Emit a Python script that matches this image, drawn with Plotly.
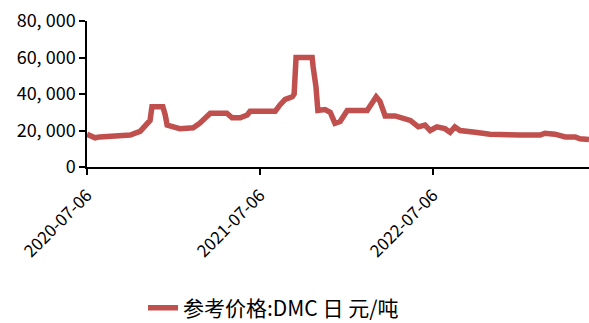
import plotly.graph_objects as go

dates = [
    "2020-07-06", "2020-07-23", "2020-08-02", "2020-10-05", "2020-10-26", "2020-11-05",
    "2020-11-16", "2020-11-20", "2020-12-13", "2020-12-18", "2020-12-22", "2021-01-18",
    "2021-02-15", "2021-03-01", "2021-03-16", "2021-03-23", "2021-04-27", "2021-05-08",
    "2021-05-25", "2021-06-09", "2021-06-15", "2021-08-07", "2021-08-17", "2021-08-28",
    "2021-09-12", "2021-09-16", "2021-09-20", "2021-10-24", "2021-10-26", "2021-11-01",
    "2021-11-05", "2021-11-20", "2021-12-01", "2021-12-11", "2021-12-22", "2022-01-06",
    "2022-02-17", "2022-02-27", "2022-03-08", "2022-03-16", "2022-03-23", "2022-03-27",
    "2022-04-17", "2022-05-19", "2022-06-05", "2022-06-19", "2022-06-30", "2022-07-14",
    "2022-07-31", "2022-08-11", "2022-08-21", "2022-09-01", "2022-10-03", "2022-11-03",
    "2023-01-06", "2023-02-17", "2023-02-27", "2023-03-20", "2023-04-11", "2023-05-02",
    "2023-05-12", "2023-05-31",
]
prices = [
    18000, 16000, 16500, 17500, 19500, 22000,
    25500, 33000, 33000, 28500, 23000, 21000,
    21500, 24000, 28000, 29500, 29500, 27000,
    27000, 28500, 30500, 30500, 34000, 37000,
    38500, 40000, 60000, 60000, 55000, 44000,
    31000, 31500, 30000, 24000, 25000, 31000,
    31000, 35000, 38500, 36000, 32000, 28000,
    28000, 25500, 22000, 23000, 20000, 22000,
    21000, 19000, 22000, 20000, 19000, 18000,
    17500, 17500, 18500, 18000, 16500, 16500,
    15500, 15000,
]
x_ticks = ["2020-07-06", "2021-07-06", "2022-07-06"]
y_ticks = [0, 20000, 40000, 60000, 80000]
y_tick_labels = ["0", "20, 000", "40, 000", "60, 000", "80, 000"]
series_name = "参考价格:DMC 日 元/吨"

fig = go.Figure()
fig.add_trace(go.Scatter(
    x=dates, y=prices, mode="lines", name=series_name,
    line=dict(color="#C0504D", width=5.5),
))

font_family = "Noto Sans CJK SC, DejaVu Sans, sans-serif"
fig.update_layout(
    width=589, height=323,
    margin=dict(l=87, r=0, t=21, b=156, autoexpand=False),
    paper_bgcolor="white", plot_bgcolor="white",
    font=dict(family=font_family, color="black"),
    showlegend=True,
    legend=dict(orientation="h", x=0.1116, xanchor="left", y=-0.966, yanchor="middle",
                font=dict(size=21, family=font_family)),
    xaxis=dict(
        type="date", range=[dates[0], dates[-1]], automargin=False,
        tickvals=x_ticks, ticktext=x_ticks, tickangle=-45,
        showline=True, linecolor="black", linewidth=1.5,
        ticks="outside", ticklen=6, tickcolor="black", tickwidth=1.5,
        ticklabelstandoff=4,
        showgrid=False, zeroline=False,
        tickfont=dict(size=17, family=font_family),
    ),
    yaxis=dict(
        range=[0, 80000], tickvals=y_ticks, ticktext=y_tick_labels, automargin=False,
        showline=True, linecolor="black", linewidth=1.5,
        ticks="outside", ticklen=6, tickcolor="black", tickwidth=1.5,
        showgrid=False, zeroline=False,
        tickfont=dict(size=18, family=font_family),
    ),
)

fig.write_html("out.html")
